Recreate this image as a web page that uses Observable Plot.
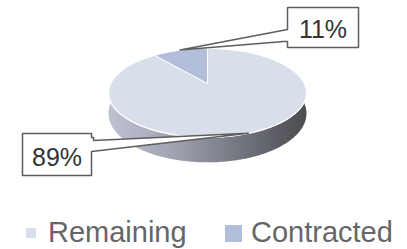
<!DOCTYPE html>
<html><head><meta charset="utf-8">
<script src="https://cdn.jsdelivr.net/npm/d3@7"></script>
<script src="https://cdn.jsdelivr.net/npm/@observablehq/plot@0.6"></script>
<style>
html,body{margin:0;padding:0;background:#fff;}
#chart{width:407px;height:210px;}
.legend{position:relative;width:407px;height:39px;font-family:"Liberation Sans",Arial,sans-serif;color:#666;}
.legend .t{position:absolute;font-size:29px;line-height:29px;white-space:nowrap;}
.legend .s{position:absolute;}
</style></head><body><div id="chart"></div><div class="legend" id="legend"></div>
<script>
// ---- data ----
const categories = ["Remaining", "Contracted"];
const shares = [89, 11];
const valueLabels = ["89%", "11%"];
const colors = ["#d9deeb", "#b3bedb"];

// ---- layout ----
const W = 407, H = 210;
const cx = 207, cy = 83, S = 96.8, sinPhi = 0.44, u = 0.2086, drop = 19.8;
function proj(theta, d = 0) {
  const den = 1 - u * Math.sin(theta);
  return {x: cx + S * Math.cos(theta) / den, y: cy + (S * sinPhi * Math.sin(theta) + d) / den};
}
const pie = d3.pie().sort(null).value(d => d)(shares);
const toTheta = a => a - Math.PI / 2;

// slices
const sliceRows = pie.map((p, i) => {
  const pts = [{x: cx, y: cy}];
  const a0 = toTheta(p.startAngle), a1 = toTheta(p.endAngle);
  const n = Math.max(2, Math.ceil((a1 - a0) / (Math.PI / 180)));
  for (let k = 0; k <= n; k++) pts.push(proj(a0 + (a1 - a0) * k / n));
  pts.push({x: cx, y: cy});
  return pts;
});

// side band (front)
const side = [];
for (let k = 0; k <= 200; k++) side.push(proj(-0.3 + (Math.PI + 0.6) * k / 200));
for (let k = 200; k >= 0; k--) side.push(proj(-0.3 + (Math.PI + 0.6) * k / 200, drop));
side.push(side[0]);

// rim
const rim = [];
for (let k = 0; k <= 360; k++) rim.push(proj(k * Math.PI / 180));

// callouts
const boxes = [
  {x0: 22, y0: 133, x1: 91, y1: 175, side: "right", a: 140, b: 151},
  {x0: 287, y0: 7, x1: 358, y1: 47, side: "left", a: 29, b: 41}
];
const callouts = pie.map((p, i) => {
  const tip = proj(toTheta((p.startAngle + p.endAngle) / 2));
  const b = boxes[i];
  let pts;
  if (b.side === "left") {
    pts = [[b.x0,b.y0],[b.x1,b.y0],[b.x1,b.y1],[b.x0,b.y1],[b.x0,b.b],[b.x0-4,b.b],[tip.x,tip.y],[b.x0,b.a],[b.x0,b.y0]];
  } else {
    pts = [[b.x0,b.y0],[b.x1,b.y0],[b.x1,b.a-3],[b.x1+2,b.a-3],[b.x1+2,b.a],[tip.x,tip.y],[b.x1,b.b],[b.x1,b.y1],[b.x0,b.y1],[b.x0,b.y0]];
  }
  return {pts: pts.map(([x, y]) => ({x, y})), label: valueLabels[i], tx: (b.x0 + b.x1) / 2, ty: b.y1 - 10};
});

const defsMark = () => {
  const defs = d3.create("svg:defs");
  const g = defs.append("linearGradient").attr("id", "sideGrad")
    .attr("x1", "0").attr("x2", "1").attr("y1", "0").attr("y2", "0");
  [["0", "#bfc2d0"], ["0.3", "#a3a6b4"], ["0.6", "#7c7e88"], ["0.85", "#5c5d64"], ["1", "#4c4d52"]]
    .forEach(([o, c]) => g.append("stop").attr("offset", o).attr("stop-color", c));
  return defs.node();
};

const chart = Plot.plot({
  width: W, height: H, margin: 0,
  x: {domain: [0, W], range: [0, W], axis: null},
  y: {domain: [0, H], range: [0, H], axis: null},
  style: {background: "white"},
  marks: [
    defsMark,
    Plot.line(side, {x: "x", y: "y", fill: "url(#sideGrad)", stroke: "none"}),
    ...sliceRows.map((pts, i) => Plot.line(pts, {x: "x", y: "y", fill: colors[i], stroke: "white", strokeWidth: 1})),
    Plot.line(rim, {x: "x", y: "y", stroke: "white", strokeWidth: 1.2}),
    ...callouts.map(c => Plot.line(c.pts, {x: "x", y: "y", fill: "white", stroke: "#5e5e5e", strokeWidth: 1.5})),
    Plot.text(callouts, {x: "tx", y: "ty", text: "label", textAnchor: "middle", lineAnchor: "bottom",
      fontSize: 25, fill: "#333", fontFamily: "Liberation Sans, Arial, sans-serif"})
  ]
});
document.getElementById("chart").appendChild(chart);

// legend
const legendLayout = [
  {sq: 10, sx: 26, sy: 18, tx: 48},
  {sq: 17, sx: 225, sy: 15, tx: 251}
];
const leg = document.getElementById("legend");
categories.forEach((c, i) => {
  const L = legendLayout[i];
  const s = document.createElement("div");
  s.className = "s";
  s.style.cssText = `left:${L.sx}px;top:${L.sy}px;width:${L.sq}px;height:${L.sq}px;background:${colors[i]};`;
  leg.appendChild(s);
  const t = document.createElement("span");
  t.className = "t";
  t.style.left = L.tx + "px";
  t.style.top = "7.5px";
  t.textContent = c;
  leg.appendChild(t);
});
</script></body></html>
